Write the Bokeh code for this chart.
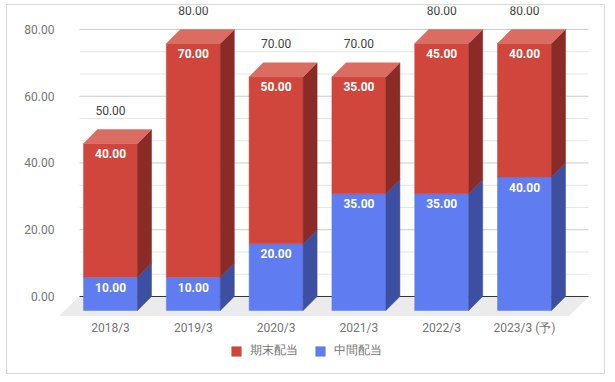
from bokeh.plotting import figure
from bokeh.models import (ColumnDataSource, FixedTicker, PrintfTickFormatter,
                          Legend, LegendItem, Range1d)
from bokeh.embed import file_html
from bokeh.resources import INLINE
from bokeh.core.properties import value

# ---- data ----
categories = ["2018/3", "2019/3", "2020/3", "2021/3", "2022/3", "2023/3 (予)"]
interim = [10, 10, 20, 35, 35, 40]       # 中間配当
year_end = [40, 70, 50, 35, 45, 40]      # 期末配当
y_ticks = [0, 20, 40, 60, 80]
name_interim = "中間配当"
name_year_end = "期末配当"

# ---- style ----
FONT = value("Roboto")
GRAY = "#757575"
FRONT = {name_interim: "#5F7CF1", name_year_end: "#D0463C"}
SIDE = {name_interim: "#3D4FA0", name_year_end: "#8A2B27"}
TOP = {name_interim: "#8398F4", name_year_end: "#DB6C62"}

W = 0.652     # bar width (x units)
DX = 0.169    # depth offset x
DY = 4.2      # depth offset y
FDX = 0.236   # floor depth x
FDY = 5.69    # floor depth y

n = len(categories)
GX0 = -0.374
GX1 = n - 1 + 0.773

p = figure(width=599, height=370,
           x_range=Range1d(-0.604, n - 1 + 0.797),
           y_range=Range1d(-18.28, 86.89),
           output_backend="svg", toolbar_location=None,
           min_border_left=53, min_border_right=16,
           min_border_top=1, min_border_bottom=18)
p.styles = {"border": "1px solid #d9d9d9", "margin-left": "6px", "margin-top": "4px"}
p.outline_line_color = None
p.xgrid.visible = False
p.ygrid.visible = False
p.background_fill_color = "white"

# gridlines on the back wall
major = [t for t in y_ticks if t != 0]
minor = []
for a, b in zip(y_ticks, y_ticks[1:]):
    minor += [a + (b - a) / 3, a + 2 * (b - a) / 3]
p.segment(x0=[GX0] * len(minor), x1=[GX1] * len(minor), y0=minor, y1=minor,
          line_color="#e6e6e6", line_width=1)
p.segment(x0=[GX0] * len(major), x1=[GX1] * len(major), y0=major, y1=major,
          line_color="#cccccc", line_width=1)

# floor
p.patch(x=[GX0, GX1, GX1 - FDX, GX0 - FDX], y=[0, 0, -FDY, -FDY],
        fill_color="#ebebeb", line_color="#ebebeb")
p.segment(x0=[GX0], x1=[GX1], y0=[0], y1=[0], line_color="#333333", line_width=1)

# bars
totals = [a + b for a, b in zip(interim, year_end)]
front_renderers = {}
for name, bottoms, tops in [(name_interim, [0] * n, interim),
                            (name_year_end, interim, totals)]:
    xs = list(range(n))
    src = ColumnDataSource(dict(
        left=[i - W / 2 for i in xs], right=[i + W / 2 for i in xs],
        bottom=[b - DY for b in bottoms], top=[t - DY for t in tops]))
    front_renderers[name] = p.quad(left="left", right="right", bottom="bottom", top="top",
                                   source=src, fill_color=FRONT[name],
                                   line_color=FRONT[name], line_width=0.5)
    side_xs = [[i + W / 2, i + W / 2 + DX, i + W / 2 + DX, i + W / 2] for i in xs]
    side_ys = [[b - DY, b, t, t - DY] for b, t in zip(bottoms, tops)]
    p.patches(xs=side_xs, ys=side_ys, fill_color=SIDE[name],
              line_color=SIDE[name], line_width=0.5)

top_xs = [[i - W / 2, i - W / 2 + DX, i + W / 2 + DX, i + W / 2] for i in range(n)]
top_ys = [[t - DY, t, t, t - DY] for t in totals]
p.patches(xs=top_xs, ys=top_ys, fill_color=TOP[name_year_end],
          line_color=TOP[name_year_end], line_width=0.5)

# segment labels
seg_x = list(range(n)) * 2
seg_y = [v - DY for v in interim] + [t - DY for t in totals]
seg_t = ["%.2f" % v for v in interim] + ["%.2f" % v for v in year_end]
p.text(x=seg_x, y=seg_y, text=seg_t, text_align="center", text_baseline="middle",
       y_offset=10, text_color="white", text_font=FONT, text_font_size="12px",
       text_font_style="bold")

# total labels
p.text(x=list(range(n)), y=totals, text=["%.2f" % v for v in totals],
       text_align="center", text_baseline="middle", y_offset=-19,
       text_color="#444444", text_font=FONT, text_font_size="12px")

# axes
p.yaxis.ticker = FixedTicker(ticks=y_ticks, minor_ticks=[])
p.yaxis.formatter = PrintfTickFormatter(format="%.2f")
p.xaxis.ticker = FixedTicker(ticks=list(range(n)), minor_ticks=[])
p.xaxis.major_label_overrides = {i: c for i, c in enumerate(categories)}
for ax in (p.xaxis[0], p.yaxis[0]):
    ax.axis_line_color = None
    ax.major_tick_line_color = None
    ax.minor_tick_line_color = None
    ax.major_tick_out = 0
    ax.major_tick_in = 0
    ax.minor_tick_out = 0
    ax.minor_tick_in = 0
    ax.major_label_text_font = "Roboto"
    ax.major_label_text_font_size = "12px"
    ax.major_label_text_color = GRAY
p.yaxis.major_label_standoff = 6
p.xaxis.major_label_standoff = 2
p.xaxis.fixed_location = -6.6

legend = Legend(items=[LegendItem(label=name_year_end, renderers=[front_renderers[name_year_end]]),
                       LegendItem(label=name_interim, renderers=[front_renderers[name_interim]])],
                orientation="horizontal", location=(170, -2),
                glyph_width=12, glyph_height=12, label_height=12, label_standoff=8, spacing=16,
                padding=0, margin=0, border_line_color=None, background_fill_alpha=0,
                label_text_font="Roboto", label_text_font_size="12px",
                label_text_color=GRAY)
p.add_layout(legend, "center")

open("out.html", "w").write(file_html(p, INLINE))
